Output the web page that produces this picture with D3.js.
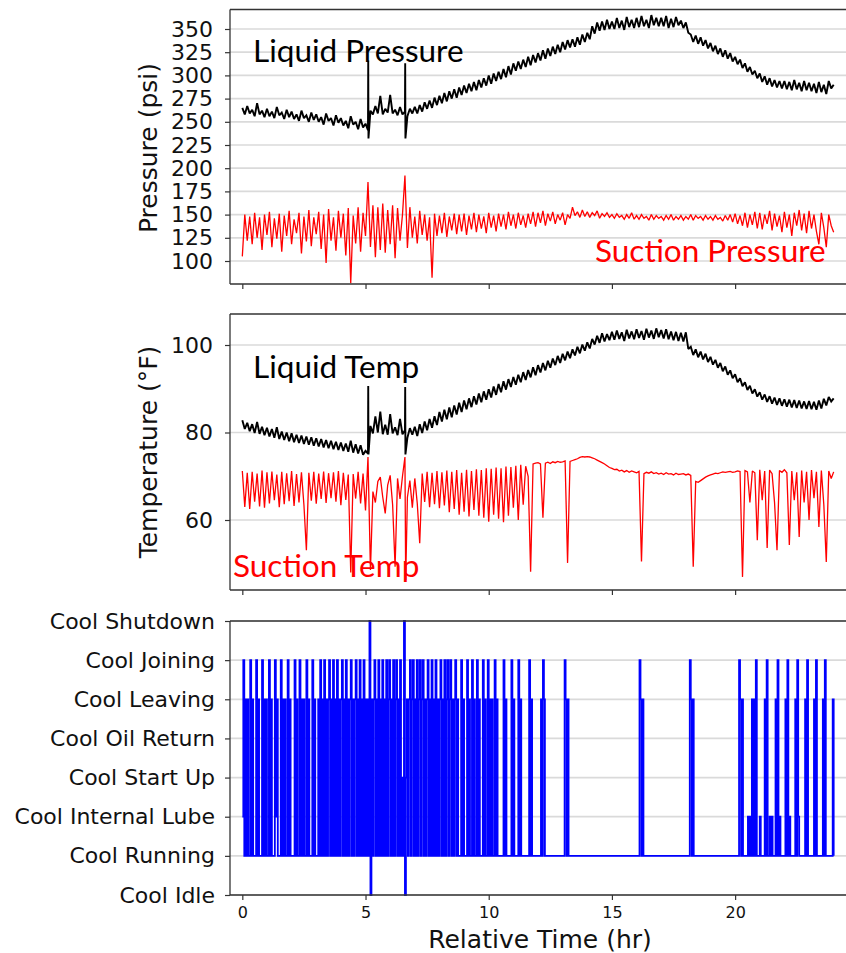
<!DOCTYPE html>
<html>
<head>
<meta charset="utf-8">
<script src="https://cdn.jsdelivr.net/npm/d3@7"></script>
<style>
  body { margin: 0; background: #fff; }
  svg { display: block; }
</style>
</head>
<body>
<svg id="chart" width="846" height="953"></svg>
<script>
// ---- Data -------------------------------------------------------------
// Analog channels are logged every 0.1 h from 0 h to 24 h (241 samples).
const sampleStepHr = 0.1;

const timeTicks = [0, 5, 10, 15, 20];
const pressureTicks = [100, 125, 150, 175, 200, 225, 250, 275, 300, 325, 350];
const tempTicks = [60, 80, 100];
const stateNames = ["Cool Idle", "Cool Running", "Cool Internal Lube", "Cool Start Up",
                    "Cool Oil Return", "Cool Leaving", "Cool Joining", "Cool Shutdown"];

// Liquid line pressure (psi)
const liquidPressure = [
  265,258,267,259,263,256,270,258,262,255,   // 0 h
  264,256,261,254,266,257,260,253,263,255,   // 1 h
  261,253,258,251,262,254,257,250,260,252,   // 2 h
  258,250,255,247,259,251,254,246,257,249,   // 3 h
  254,246,251,243,256,247,250,242,253,244,   // 4 h
  248,241,262,258,267,259,278,258,264,260,   // 5 h
  279,259,263,257,266,258,261,256,264,259,   // 6 h
  266,259,268,261,271,264,273,265,276,268,   // 7 h
  278,270,281,272,283,275,285,276,287,279,   // 8 h
  289,281,291,283,293,284,295,287,297,289,   // 9 h
  300,291,302,294,304,296,307,298,310,301,   // 10 h
  313,305,315,307,317,309,320,311,322,314,   // 11 h
  324,316,327,318,329,321,331,323,333,325,   // 12 h
  336,328,338,330,339,331,341,333,344,336,   // 13 h
  346,339,353,345,357,348,358,349,360,350,   // 14 h
  358,350,362,351,359,349,363,352,360,351,   // 15 h
  362,352,364,353,360,351,365,354,362,353,   // 16 h
  362,353,364,351,361,352,363,354,359,351,   // 17 h
  357,346,344,336,343,334,341,332,338,329,   // 18 h
  335,326,332,323,329,320,327,318,324,315,   // 19 h
  320,312,317,308,313,304,309,301,305,297,   // 20 h
  302,293,299,290,297,288,295,287,294,286,   // 21 h
  294,285,293,284,295,285,292,283,294,284,   // 22 h
  292,283,291,281,293,282,290,280,294,286,   // 23 h
  290
];
// Short transients captured between regular samples (shutdown events)
const liquidPressureEventT = [5.11, 5.12, 6.61, 6.62];
const liquidPressureEventV = [316, 232, 313, 232];

// Suction line pressure (psi)
const suctionPressure = [
  105,150,122,148,118,152,125,147,112,150,   // 0 h
  128,153,115,146,124,151,110,149,127,154,   // 1 h
  118,145,130,152,108,148,121,155,116,147,   // 2 h
  129,153,113,150,98,156,122,147,111,154,    // 3 h
  125,151,106,157,76,149,119,158,110,152,    // 4 h
  127,185,115,160,104,158,112,162,109,155,   // 5 h
  118,160,103,157,122,150,192,114,158,125,   // 6 h
  148,119,154,128,150,122,147,82,151,127,    // 7 h
  149,130,152,126,148,133,151,129,150,132,   // 8 h
  151,128,149,134,152,131,150,135,148,130,   // 9 h
  152,136,149,132,151,137,150,134,153,138,   // 10 h
  150,135,152,139,149,136,151,140,153,137,   // 11 h
  152,141,154,138,151,143,153,140,150,144,   // 12 h
  152,139,150,146,158,149,153,147,155,148,   // 13 h
  153,147,152,149,154,146,151,148,152,147,   // 14 h
  150,146,151,147,149,145,150,146,152,145,   // 15 h
  149,145,150,146,148,144,150,145,149,146,   // 16 h
  148,144,149,145,150,144,148,145,149,144,   // 17 h
  148,145,150,144,149,146,148,144,149,145,   // 18 h
  148,144,149,145,147,143,149,144,150,142,   // 19 h
  151,140,149,138,152,136,150,139,153,135,   // 20 h
  152,134,150,140,154,133,151,137,149,131,   // 21 h
  153,136,150,127,152,138,155,133,151,130,   // 22 h
  154,135,150,132,118,152,136,115,150,138,   // 23 h
  131
];

// Liquid line temperature (°F)
const liquidTemp = [
  82.8,80.8,82.2,80.3,81.9,79.9,82.4,79.7,81.3,79.4,   // 0 h
  81.1,79.1,80.8,78.8,81.2,78.5,80.2,78.3,80.0,78.0,   // 1 h
  79.8,77.8,79.5,77.6,79.3,77.4,79.1,77.2,78.9,77.0,   // 2 h
  78.7,76.8,78.5,76.6,78.3,76.4,78.1,76.2,77.9,76.0,   // 3 h
  77.7,75.8,77.5,75.6,78.1,75.4,77.3,75.2,77.1,74.9,   // 4 h
  75.8,75.2,81.5,79.8,83.7,80.0,84.8,79.6,81.8,79.5,   // 5 h
  84.2,79.8,81.2,79.4,83.1,79.6,80.5,78.8,81.0,79.5,   // 6 h
  81.3,79.2,81.9,79.9,82.5,80.5,83.1,81.1,83.7,81.7,   // 7 h
  84.7,82.5,85.2,83.0,85.7,83.5,86.2,84.1,86.8,84.7,   // 8 h
  87.3,85.3,87.8,85.8,88.3,86.4,88.9,86.9,89.4,87.5,   // 9 h
  89.9,88.0,90.5,88.6,91.1,89.2,91.7,89.8,92.2,90.4,   // 10 h
  92.7,90.9,93.2,91.5,93.8,92.0,94.3,92.6,94.9,93.1,   // 11 h
  95.4,93.7,95.9,94.2,96.4,94.8,96.9,95.4,97.5,95.9,   // 12 h
  98.0,96.5,98.5,97.0,99.0,97.6,99.6,98.1,100.1,98.7,  // 13 h
  100.6,99.2,101.4,100.1,102.1,100.5,102.7,100.8,102.5,101.1, // 14 h
  103.0,101.2,103.3,101.4,102.9,100.9,103.5,101.5,103.1,101.3, // 15 h
  103.6,101.6,103.2,101.2,103.7,101.7,103.3,101.4,103.8,101.8, // 16 h
  103.4,101.5,103.6,101.3,103.1,101.1,103.0,100.9,102.8,100.8, // 17 h
  102.9,99.1,99.6,97.7,99.0,97.2,98.5,96.7,98.0,96.1,  // 18 h
  97.3,95.5,96.6,94.8,95.9,94.0,95.1,93.2,94.2,92.4,   // 19 h
  93.3,91.5,92.4,90.6,91.5,89.7,90.7,88.9,89.9,88.2,   // 20 h
  89.2,87.5,88.7,87.0,88.3,86.6,88.0,86.3,87.8,86.1,   // 21 h
  87.6,85.9,87.5,85.7,87.4,85.6,87.3,85.5,87.1,85.4,   // 22 h
  87.2,85.3,87.0,85.2,87.3,85.5,87.7,86.2,88.1,87.1,   // 23 h
  87.8
];
const liquidTempEventT = [5.11, 5.12, 6.61, 6.62];
const liquidTempEventV = [90.6, 75.0, 90.4, 75.0];

// Suction line temperature (°F)
const suctionTemp = [
  71.2,63.0,70.8,62.5,71.0,64.2,70.6,63.1,71.3,62.8,   // 0 h
  70.9,63.8,71.1,64.5,70.4,62.9,71.0,63.6,70.7,64.3,   // 1 h
  71.2,63.2,70.5,64.0,70.9,63.5,53.1,70.8,64.4,71.0,   // 2 h
  63.7,70.6,64.8,71.1,63.9,70.7,65.0,70.9,64.2,71.2,   // 3 h
  63.4,70.8,64.6,70.4,48.0,70.5,64.9,71.0,63.8,70.6,   // 4 h
  62.2,74.4,48.6,66.5,64.0,68.8,69.8,65.2,61.5,68.0,   // 5 h
  70.2,63.5,49.3,69.5,64.8,70.0,74.4,65.2,69.0,62.8,   // 6 h
  69.5,63.8,54.7,70.6,64.1,71.0,62.9,70.8,63.6,71.2,   // 7 h
  62.7,70.9,63.3,71.3,61.8,71.0,62.5,71.4,61.2,70.8,   // 8 h
  61.9,71.5,60.8,71.2,62.3,71.6,61.0,71.4,60.5,71.8,   // 9 h
  59.6,71.7,61.2,72.0,60.3,71.8,59.5,72.2,61.0,72.1,   // 10 h
  62.8,72.4,60.0,72.6,63.5,72.3,70.0,48.2,72.8,73.0,   // 11 h
  73.1,72.8,60.5,73.0,73.2,72.9,73.3,73.1,73.4,73.2,   // 12 h
  73.3,73.5,50.2,73.4,73.6,73.8,74.0,74.3,74.5,74.4,   // 13 h
  74.5,74.4,74.2,74.0,73.7,73.4,73.1,72.8,72.4,72.0,   // 14 h
  71.8,71.5,71.6,71.2,71.4,71.0,71.3,70.9,71.2,71.0,   // 15 h
  70.8,71.1,50.5,70.6,70.9,70.7,71.0,70.6,70.8,70.5,   // 16 h
  70.7,70.4,70.8,70.5,70.6,70.3,70.7,70.4,70.5,70.6,   // 17 h
  70.3,70.5,70.2,49.3,68.8,68.6,69.0,69.4,69.8,70.1,   // 18 h
  70.3,70.5,70.7,70.6,70.8,71.0,70.9,71.0,71.1,70.9,   // 19 h
  71.0,71.2,71.1,47.0,71.3,71.0,64.0,71.2,70.8,55.4,   // 20 h
  71.5,64.5,71.2,53.6,71.4,70.6,64.0,53.1,71.3,70.9,   // 21 h
  71.5,70.8,54.3,71.2,64.5,70.9,56.1,71.3,64.0,71.0,   // 22 h
  60.0,71.4,65.0,71.0,58.4,71.3,63.5,50.4,71.2,69.5,   // 23 h
  71.0
];
const suctionTempEventT = [6.63];
const suctionTempEventV = [46.3];

// Unit operating state, one code per 0.04 h (index into stateNames),
// one string per hour of the log.
const stateStepHr = 0.04;
const stateLog = [
  "2615151161511161511161515", // 0 h
  "1161511162511161515116151", // 1 h
  "1116151161515116151116151", // 2 h
  "1151615161515615161516151", // 3 h
  "5615161515615156151615161", // 4 h
  "5151705156151615161516156", // 5 h
  "1516156151613170351561561", // 6 h
  "5161561561515615161516151", // 7 h
  "5615161561561515615111615", // 8 h
  "1116151161511615111615116", // 9 h
  "1515116151111116151111161", // 10 h
  "5111161511111111615111111", // 11 h
  "1115165111111111111111111", // 12 h
  "1165151111111111111111111", // 13 h
  "1111111111111111111111111", // 14 h
  "1111111111111111111111111", // 15 h
  "1116515111111111111111111", // 16 h
  "1111111111111111111111111", // 17 h
  "1111651511111111111111111", // 18 h
  "1111111111111111111111111", // 19 h
  "1111651511111212151516111", // 20 h
  "2111151611212111516121111", // 21 h
  "1516121111151621111115161", // 22 h
  "11111516111111516111111151" // 23 h (last code is the 24 h sample)
];

// ---- Drawing ----------------------------------------------------------
const svg = d3.select("#chart");
const plotLeft = 230, plotRight = 846;
const x = d3.scaleLinear().domain([-0.5, 24.5]).range([plotLeft, plotRight]);

const panelPressure = { id: "clipP", top: 9.5, bottom: 284,
  y: d3.scaleLinear().domain([100, 350]).range([261, 29]) };
const panelTemp = { id: "clipT", top: 314, bottom: 590,
  y: d3.scaleLinear().domain([60, 100]).range([520, 345]) };
const panelState = { id: "clipS", top: 621, bottom: 895,
  y: d3.scaleLinear().domain([0, 7]).range([895, 621]) };

const defs = svg.append("defs");
[panelPressure, panelTemp, panelState].forEach(p => {
  defs.append("clipPath").attr("id", p.id).append("rect")
    .attr("x", plotLeft).attr("y", p.top - 1)
    .attr("width", plotRight - plotLeft).attr("height", p.bottom - p.top + 2);
});

function drawFrame(p, yTicks, yFormat, yPad, xLabels) {
  const g = svg.append("g");
  g.append("g").selectAll("line").data(yTicks).join("line")
    .attr("x1", plotLeft).attr("x2", plotRight)
    .attr("y1", d => p.y(d)).attr("y2", d => p.y(d))
    .attr("stroke", "#dadada").attr("stroke-width", 1.7);

  const ya = g.append("g").attr("transform", `translate(${plotLeft},0)`)
    .call(d3.axisLeft(p.y).tickValues(yTicks).tickSize(5).tickPadding(yPad).tickFormat(yFormat));
  ya.select(".domain").remove();
  ya.selectAll("line").attr("stroke", "#333").attr("stroke-width", 1.2);
  ya.selectAll("text").attr("font-family", "DejaVu Sans").attr("font-size", 22).attr("fill", "#111");

  const xa = g.append("g").attr("transform", `translate(0,${p.bottom})`)
    .call(d3.axisBottom(x).tickValues(timeTicks).tickSize(5).tickPadding(7)
      .tickFormat(xLabels ? d3.format("d") : () => ""));
  xa.select(".domain").remove();
  xa.selectAll("line").attr("stroke", "#333").attr("stroke-width", 1.2);
  xa.selectAll("text").attr("font-family", "DejaVu Sans").attr("font-size", 16).attr("fill", "#111");
  return g;
}

// Top, bottom and left spines (the right spine sits on the page edge)
function drawSpines(p) {
  const g = svg.append("g").attr("stroke", "#333").attr("stroke-width", 1.3);
  g.append("line").attr("x1", plotLeft).attr("x2", plotRight + 2).attr("y1", p.top).attr("y2", p.top);
  g.append("line").attr("x1", plotLeft).attr("x2", plotRight + 2).attr("y1", p.bottom).attr("y2", p.bottom);
  g.append("line").attr("x1", plotLeft).attr("x2", plotLeft).attr("y1", p.top).attr("y2", p.bottom);
}

function seriesPoints(values, eventT, eventV) {
  const pts = values.map((v, i) => [i * sampleStepHr, v]);
  if (eventT) eventT.forEach((t, k) => pts.push([t, eventV[k]]));
  return pts.sort((a, b) => a[0] - b[0]);
}

function drawSeries(p, pts, color, width) {
  const line = d3.line().x(d => x(d[0])).y(d => p.y(d[1]));
  svg.append("path").attr("clip-path", `url(#${p.id})`)
    .attr("d", line(pts)).attr("fill", "none")
    .attr("stroke", color).attr("stroke-width", width)
    .attr("stroke-linejoin", "miter").attr("stroke-miterlimit", 2);
}

function annotate(text, px, py, color) {
  svg.append("text").attr("x", px).attr("y", py)
    .attr("font-family", "Lato, 'Open Sans', sans-serif").attr("font-size", 31.5)
    .attr("fill", color).text(text);
}

// Panel 1: pressures
drawFrame(panelPressure, pressureTicks, d3.format("d"), 12, false);
drawSeries(panelPressure, seriesPoints(suctionPressure), "#ff0000", 1.3);
drawSeries(panelPressure, seriesPoints(liquidPressure, liquidPressureEventT, liquidPressureEventV), "#000", 1.9);
drawSpines(panelPressure);
annotate("Liquid Pressure", 253, 62, "#000");
annotate("Suction Pressure", 595, 262, "#ff0000");

// Panel 2: temperatures
drawFrame(panelTemp, tempTicks, d3.format("d"), 12, false);
drawSeries(panelTemp, seriesPoints(suctionTemp, suctionTempEventT, suctionTempEventV), "#ff0000", 1.3);
drawSeries(panelTemp, seriesPoints(liquidTemp, liquidTempEventT, liquidTempEventV), "#000", 1.9);
drawSpines(panelTemp);
annotate("Liquid Temp", 253, 378, "#000");
annotate("Suction Temp", 233, 577, "#ff0000");

// Panel 3: operating state (step trace)
drawFrame(panelState, d3.range(stateNames.length), i => stateNames[i], 10, true);
const statePts = [];
stateLog.forEach((row, h) => {
  row.split("").forEach((c, i) => statePts.push([h + i * stateStepHr, +c]));
});
const stepLine = d3.line().curve(d3.curveStepAfter)
  .x(d => x(d[0])).y(d => panelState.y(d[1]));
svg.append("path").attr("clip-path", `url(#${panelState.id})`)
  .attr("d", stepLine(statePts)).attr("fill", "none")
  .attr("stroke", "#0000ff").attr("stroke-width", 1.8);
drawSpines(panelState);

// Axis titles
svg.append("text").attr("transform", "translate(157,148) rotate(-90)")
  .attr("text-anchor", "middle").attr("font-family", "DejaVu Sans").attr("font-size", 25)
  .attr("fill", "#111").text("Pressure (psi)");
svg.append("text").attr("transform", "translate(157,452) rotate(-90)")
  .attr("text-anchor", "middle").attr("font-family", "DejaVu Sans").attr("font-size", 25)
  .attr("fill", "#111").text("Temperature (°F)");
svg.append("text").attr("x", 540).attr("y", 948)
  .attr("text-anchor", "middle").attr("font-family", "DejaVu Sans").attr("font-size", 25)
  .attr("fill", "#111").text("Relative Time (hr)");
</script>
</body>
</html>
